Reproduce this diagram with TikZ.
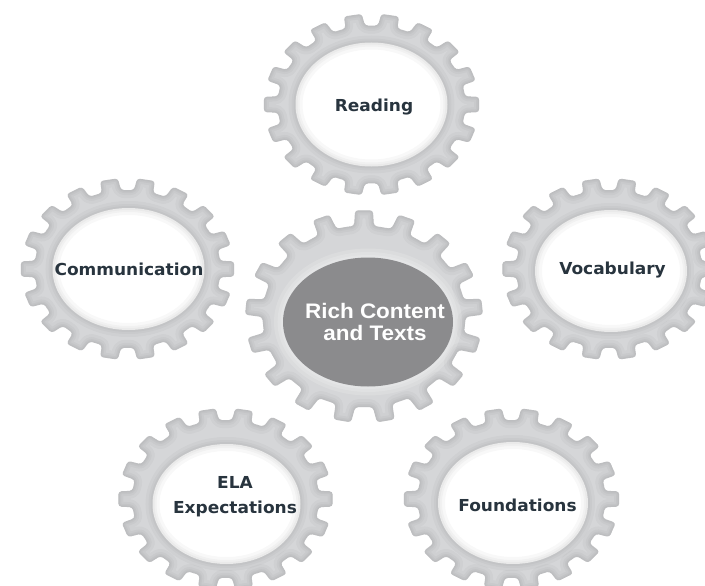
\documentclass[tikz,border=0pt]{standalone}
\usepackage{fontspec}
\newfontfamily\labelfont[FakeStretch=1.03]{DejaVu Sans}
\newfontfamily\centerfont[FakeStretch=1.07]{Liberation Sans}
\definecolor{gearC}{RGB}{213,214,216}
\definecolor{darkC}{RGB}{139,139,141}
\definecolor{txtC}{RGB}{40,52,62}
\tikzset{
  lbl/.style={font=\labelfont\bfseries\fontsize{16.5}{24.7}\selectfont, text=txtC, inner sep=0pt, align=center},
  ctr/.style={font=\centerfont\bfseries\fontsize{21}{22.4}\selectfont, text=white, inner sep=0pt, align=center},
  gearedge/.style={black, opacity=0.028, line join=round, rounded corners=3pt},
}
% n, offset, root radius, half tip angle, half root angle
\newcommand{\gearpath}[5]{%
  ({#2-180/#1}:#3) \foreach \k in {1,...,#1}{
    -- ({#2+(\k-1)*360/#1-#5}:#3) -- ({#2+(\k-1)*360/#1-#4}:1)
    -- ({#2+(\k-1)*360/#1+#4}:1) -- ({#2+(\k-1)*360/#1+#5}:#3)
  } -- cycle}
% cx, cy, rx, ry, n, offset, root, halftip, halfroot
\newcommand{\gearbody}[9]{%
  \begin{scope}[shift={(#1,#2)}, xscale=#3, yscale=#4]
    \begin{scope}
      \clip[rounded corners=3pt] \gearpath{#5}{#6}{#7}{#8}{#9};
      \fill[gearC] (-1.2,-1.2) rectangle (1.2,1.2);
      \foreach \w in {16,10,6,3}{
        \draw[gearedge, line width=\w pt] \gearpath{#5}{#6}{#7}{#8}{#9};
      }
    \end{scope}
  \end{scope}}
\newcommand{\gearhole}[4]{%
  \fill[white] (#1,#2) ellipse (#3 and #4);
  \foreach \w in {14,8,4}{
    \draw[black, opacity=0.028, line width=\w pt] (#1,#2) ellipse (#3 and #4);
  }}
\begin{document}
\begin{tikzpicture}[x=1pt,y=-1pt]
\useasboundingbox (0,0) rectangle (705,586);
\fill[white] (0,0) rectangle (705,586);
% side gears
\gearbody{371.5}{104.5}{108}{91}{18}{0}{0.87}{4.8}{6}
\gearhole{371.5}{104.5}{76}{62}
\gearbody{127.5}{269}{107}{91}{18}{0}{0.87}{4.8}{6}
\gearhole{128.5}{269}{76}{61}
\gearbody{609}{269}{107}{91}{18}{0}{0.87}{4.8}{6}
\gearhole{611}{271}{76}{61}
\gearbody{225.5}{499}{107.5}{91}{18}{0}{0.87}{4.8}{6}
\gearhole{226.5}{504}{74}{60}
\gearbody{511.5}{499}{108}{91}{18}{0}{0.87}{4.8}{6}
\gearhole{513}{503}{75}{61}
% center gear
\gearbody{364}{316.5}{119}{106.5}{17}{270}{0.855}{4.3}{5.6}
\foreach \w in {18,11,5}{
  \draw[white, opacity=0.15, line width=\w pt] (368,322) ellipse (85 and 64.5);
}
\fill[darkC] (368,322) ellipse (85 and 64.5);
% labels
\node[lbl, anchor=base] (reading) at (374,111.7) {Reading};
\node[lbl, anchor=base] (communication) at (129,275.5) {Communication};
\node[lbl, anchor=base] (vocabulary) at (612.5,274) {Vocabulary};
\node[lbl, anchor=base] (foundations) at (517.5,511) {Foundations};
\node[lbl] (ela) at (235,497) {ELA\\Expectations};
\node[ctr] (rich) at (375,322) {Rich Content\\and Texts};
\end{tikzpicture}
\end{document}
